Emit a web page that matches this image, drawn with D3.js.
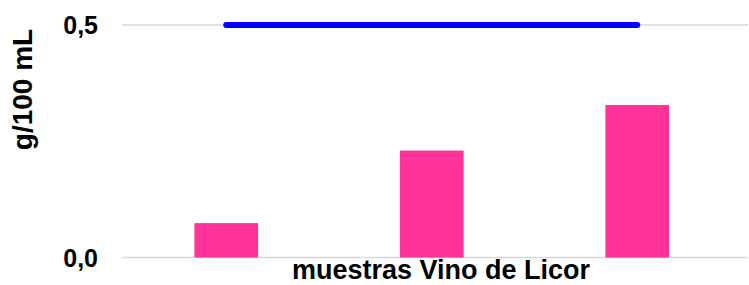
<!DOCTYPE html>
<html>
<head>
<meta charset="utf-8">
<script src="https://cdn.jsdelivr.net/npm/d3@7"></script>
<style>
  body { margin: 0; background: #fff; }
  text { font-family: Arial, "Liberation Sans", sans-serif; font-weight: bold; fill: #000; }
</style>
</head>
<body>
<svg id="chart"></svg>
<script>
// samples (no visible labels in the original)
const muestras = ["M1", "M2", "M3"];
const valores = [0.074, 0.23, 0.328];
const limite = [0.5, 0.5, 0.5];
const yTicks = [0, 0.5];

function makeChart() {
    let w = 749;
    let h = 285;

    let svg = d3.select("#chart")
        .attr("width", w)
        .attr("height", h);

    let x = d3.scaleBand()
        .domain(muestras)
        .range([123.5, 740])
        .paddingInner(0.69)
        .paddingOuter(0.345);

    let y = d3.scaleLinear()
        .domain([0, 0.5])
        .range([257.5, 25]);

    // grid lines
    svg.append("g")
        .selectAll("line")
        .data(yTicks)
        .enter()
        .append("line")
            .attr("x1", 122)
            .attr("x2", 748)
            .attr("y1", d => y(d))
            .attr("y2", d => y(d))
            .style("stroke", "#d9d9d9")
            .style("stroke-width", 1.5);

    // tick labels
    svg.append("g")
        .selectAll("text")
        .data(yTicks)
        .enter()
        .append("text")
            .attr("x", 98)
            .attr("y", d => y(d) + 9)
            .attr("text-anchor", "end")
            .style("font-size", "25px")
            .text(d => d3.format(".1f")(d).replace(".", ","));

    // bars
    svg.append("g")
        .selectAll("rect")
        .data(valores)
        .enter()
        .append("rect")
            .attr("x", (d, i) => x(muestras[i]))
            .attr("width", x.bandwidth())
            .attr("y", d => y(d))
            .attr("height", d => y(0) - y(d))
            .style("fill", "#ff3399");

    // limit line
    let line = d3.line()
        .x((d, i) => x(muestras[i]) + x.bandwidth() / 2)
        .y(d => y(d));

    svg.append("path")
        .datum(limite)
        .attr("d", line)
        .style("fill", "none")
        .style("stroke", "#0000ff")
        .style("stroke-width", 6)
        .style("stroke-linecap", "round");

    // axis titles
    svg.append("text")
        .attr("x", 441)
        .attr("y", 279)
        .attr("text-anchor", "middle")
        .style("font-size", "27px")
        .text("muestras Vino de Licor");

    svg.append("text")
        .attr("transform", "translate(32,89.5) rotate(-90)")
        .attr("text-anchor", "middle")
        .style("font-size", "28px")
        .text("g/100 mL");
}

window.onload = function() {
    makeChart();
}
</script>
</body>
</html>
